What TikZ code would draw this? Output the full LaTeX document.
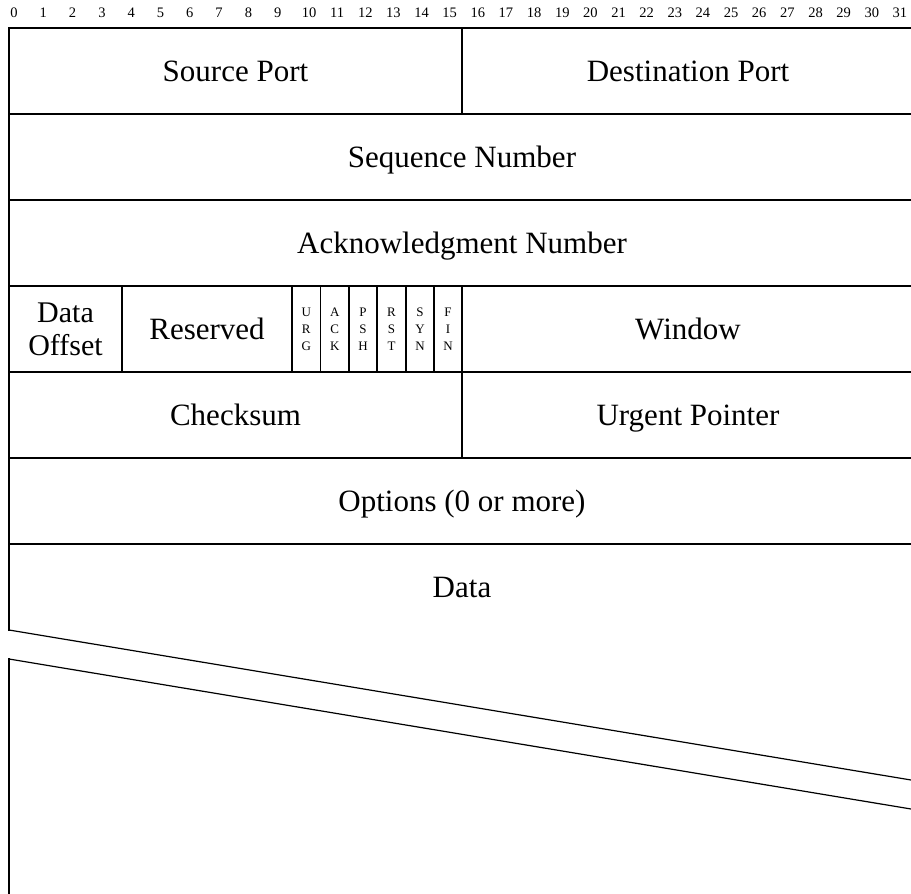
\documentclass[tikz,border=0pt]{standalone}
\usepackage{fontspec}
\setmainfont{Liberation Serif}
\begin{document}
\begin{tikzpicture}[x=1pt,y=-1pt,
  rule/.style={line width=1.2pt, line cap=rect},
  field/.style={font=\fontsize{31}{33}\selectfont, inner sep=0pt, anchor=base},
  twoline/.style={font=\fontsize{30}{33}\selectfont, inner sep=0pt, align=center},
  flagbox/.style={font=\fontsize{13}{17}\selectfont, inner sep=0pt, align=center},
  bitno/.style={font=\fontsize{14.5}{16}\selectfont, inner sep=0pt}]
\useasboundingbox (0,0) rectangle (911,894);

% bit numbers along the top
\foreach \i in {0,...,9}
  \node[bitno] (b\i) at ({14+29.3*\i},13) {\i};
\foreach \i in {10,...,31}
  \node[bitno] (b\i) at ({309+28.14*(\i-10)},13) {\i};

% horizontal rules between the 32-bit words
\foreach \y in {28,114,200,286,372,458,544}
  \draw[rule] (9,\y) -- (911,\y);

% left edge, broken for the torn-off data area
\draw[rule] (9,28) -- (9,630);
\draw[rule] (9,659) -- (9,894);

% vertical separators
\draw[rule] (462,28) -- (462,114);
\foreach \x in {122,292,320.6,349,377,406,434,462}
  \draw[rule] (\x,286) -- (\x,372);
\draw[rule] (462,372) -- (462,458);

% torn edges of the data field
\draw[rule, line cap=round] (9,630) -- (911,780);
\draw[rule, line cap=round] (9,659) -- (911,809);

% field labels
\node[field] (src) at (235.5,81) {Source Port};
\node[field] (dst) at (688,81) {Destination Port};
\node[field] (seq) at (462,167) {Sequence Number};
\node[field] (ack) at (462,253) {Acknowledgment Number};
\node[twoline] (off) at (65.5,329) {Data\\Offset};
\node[field] (res) at (207,339) {Reserved};
\node[flagbox] (urg) at (306.3,329) {U\\R\\G};
\node[flagbox] (ackf) at (334.8,329) {A\\C\\K};
\node[flagbox] (psh) at (363,329) {P\\S\\H};
\node[flagbox] (rst) at (391.5,329) {R\\S\\T};
\node[flagbox] (syn) at (420,329) {S\\Y\\N};
\node[flagbox] (fin) at (448,329) {F\\I\\N};
\node[field] (win) at (688,339) {Window};
\node[field] (chk) at (235.5,425) {Checksum};
\node[field] (urgp) at (688,425) {Urgent Pointer};
\node[field] (opt) at (462,511) {Options (0 or more)};
\node[field] (data) at (462,597) {Data};
\end{tikzpicture}
\end{document}
